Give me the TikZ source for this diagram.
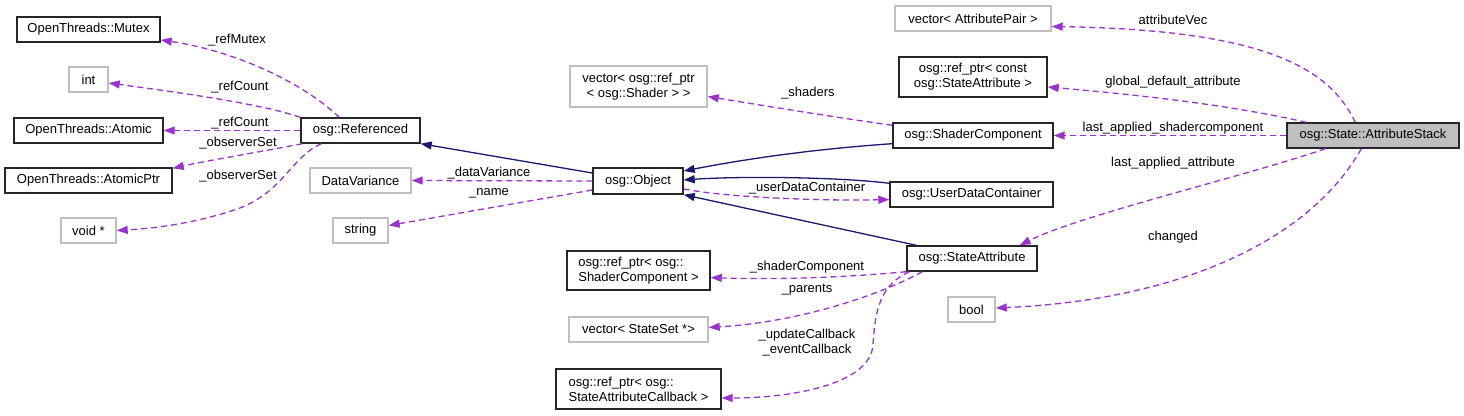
\documentclass[tikz,border=0pt]{standalone}
\usepackage{fontspec}
\setmainfont{Liberation Sans}
\usepackage{tikz}
\usetikzlibrary{arrows.meta,calc}
\definecolor{edgepurple}{HTML}{9A32CD}
\definecolor{edgenavy}{HTML}{191970}
\definecolor{boxgray}{HTML}{BFBFBF}

\begin{document}
\begin{tikzpicture}[x=1pt,y=-1pt,font=\fontsize{13}{15}\selectfont,
  cls/.style={draw=black!85,line width=1.4pt,inner sep=0pt,minimum height=25pt},
  ext/.style={draw=boxgray,line width=1.4pt,inner sep=0pt,minimum height=25pt},
  cur/.style={cls,fill=boxgray},
  inh/.style={draw=edgenavy,line width=1.3pt,-{Triangle[length=11pt,width=8pt]}},
  use/.style={draw=edgepurple,line width=1.3pt,dash pattern=on 6pt off 4pt,-{Triangle[length=11pt,width=8pt]}},
  lbl/.style={inner sep=0pt,align=center}]
\useasboundingbox (0,0) rectangle (1464,415);

\node[cls,minimum width=143pt] (mutex) at (88.5,29.5) {OpenThreads::Mutex};
\node[ext,minimum width=39pt] (int) at (88.5,79.5) {int};
\node[cls,minimum width=149pt] (atomic) at (88.5,130.5) {OpenThreads::Atomic};
\node[cls,minimum width=167pt] (atomicptr) at (88.5,180.5) {OpenThreads::AtomicPtr};
\node[ext,minimum width=55pt] (voidp) at (88.5,230.5) {void *};

\node[cls,minimum width=119pt] (referenced) at (360.5,130.5) {osg::Referenced};
\node[ext,minimum width=101pt] (datavar) at (360.5,180.5) {DataVariance};
\node[ext,minimum width=55pt] (string) at (360.5,230.5) {string};

\node[ext,minimum width=137pt,minimum height=41pt,align=center] (shaders) at (638.5,86.5) {vector< osg::ref\_ptr\\< osg::Shader > >};
\node[cls,minimum width=90pt,minimum height=26pt] (object) at (638,181) {osg::Object};
\node[cls,minimum width=143pt,minimum height=39pt,align=left] (refshcomp) at (638.5,270.5) {osg::ref\_ptr< osg::\\ShaderComponent >};
\node[ext,minimum width=139pt] (parents) at (638.5,329.5) {vector< StateSet *>};
\node[cls,minimum width=165pt,minimum height=40pt,align=left] (refcb) at (638.5,389) {osg::ref\_ptr< osg::\\StateAttributeCallback >};

\node[ext,minimum width=156pt] (attrpair) at (973,18.5) {vector< AttributePair >};
\node[cls,minimum width=148pt,minimum height=40pt,align=center] (refconst) at (973,77) {osg::ref\_ptr< const\\osg::StateAttribute >};
\node[cls,minimum width=160pt] (shadercomp) at (973,135.5) {osg::ShaderComponent};
\node[cls,minimum width=163pt] (udc) at (971.5,194.5) {osg::UserDataContainer};
\node[cls,minimum width=130pt] (stateattr) at (972,258.5) {osg::StateAttribute};
\node[ext,minimum width=47pt] (bool) at (971.5,309.5) {bool};

\node[cur,minimum width=172pt] (as) at (1373,135.5) {osg::State::AttributeStack};

\draw[use] ($(referenced.north west)+(39,0)$) .. controls (300,80) and (230,50) .. ($(mutex.east)+(0,10.5)$);
\draw[use] (referenced.north west) .. controls (260,103) and (160,90) .. ($(int.east)+(0,3.5)$);
\draw[use] (referenced.west) -- (atomic.east);
\draw[use] ($(referenced.south west)+(2,0)$) .. controls (260,152) and (210,160) .. ($(atomicptr.north east)+(0,1)$);
\draw[use] ($(referenced.south west)+(21,0)$) .. controls (290,158) and (285,190) .. (240,208) .. controls (200,222) and (160,228) .. (voidp.east);

\draw[inh] ($(object.west)+(0,-8)$) -- (referenced.south east);
\draw[use] (object.west) -- (datavar.east);
\draw[use] ($(object.west)+(0,9)$) -- ($(string.east)+(0,-5)$);

\draw[use] ($(shadercomp.north west)+(0,3)$) .. controls (820,115) and (760,105) .. ($(shaders.east)+(0,10)$);
\draw[inh] ($(shadercomp.south west)+(0,-5)$) .. controls (800,150) and (730,162) .. ($(object.east)+(0,-10)$);
\draw[inh] ($(udc.north west)+(0,2)$) .. controls (840,177) and (740,176) .. ($(object.east)+(0,-1)$);
\draw[use] ($(object.east)+(0,8)$) .. controls (730,198) and (830,201) .. ($(udc.west)+(0,5)$);
\draw[inh] ($(stateattr.north west)+(10,0)$) -- (object.south east);

\draw[use] (stateattr.south west) .. controls (850,277) and (780,280) .. ($(refshcomp.east)+(0,7)$);
\draw[use] ($(stateattr.south west)+(16,0)$) .. controls (880,295) and (800,322) .. ($(parents.east)+(0,-2)$);
\draw[use] ($(stateattr.south west)+(3,0)$) .. controls (880,285) and (875,310) .. (873,345) .. controls (870,385) and (790,398) .. ($(refcb.east)+(0,9)$);

\draw[use] ($(as.north west)+(69,0)$) .. controls (1330,70) and (1270,30) .. ($(attrpair.east)+(0,8)$);
\draw[use] ($(as.north west)+(20,0)$) .. controls (1230,105) and (1140,95) .. ($(refconst.east)+(0,10)$);
\draw[use] (as.west) -- (shadercomp.east);
\draw[use] ($(as.south west)+(39,0)$) .. controls (1250,175) and (1080,215) .. ($(stateattr.north east)+(-18,0)$);
\draw[use] ($(as.south west)+(75,0)$) .. controls (1310,240) and (1180,300) .. ($(bool.east)+(0,-1.5)$);

\node[lbl] (lmutex) at (237,40) {\_refMutex};
\node[lbl] (lcount) at (240,87) {\_refCount};
\node[lbl] (lcount2) at (240,123) {\_refCount};
\node[lbl] (lobs) at (238,143) {\_observerSet};
\node[lbl] (lobs2) at (238,176) {\_observerSet};
\node[lbl] (ldatavar) at (489,173) {\_dataVariance};
\node[lbl] (lname) at (489,193) {\_name};
\node[lbl] (lshaders) at (808,93) {\_shaders};
\node[lbl] (ludc) at (807,188) {\_userDataContainer};
\node[lbl] (lshcomp) at (807,267) {\_shaderComponent};
\node[lbl] (lparents) at (807,290) {\_parents};
\node[lbl] (lcb) at (807,343) {\_updateCallback\\\_eventCallback};
\node[lbl] (lattrvec) at (1173,20) {attributeVec};
\node[lbl] (lglobal) at (1173,82) {global\_default\_attribute};
\node[lbl] (lshcomp2) at (1173,128) {last\_applied\_shadercomponent};
\node[lbl] (lattr) at (1173,163) {last\_applied\_attribute};
\node[lbl] (lchanged) at (1173,237) {changed};
\end{tikzpicture}
\end{document}
